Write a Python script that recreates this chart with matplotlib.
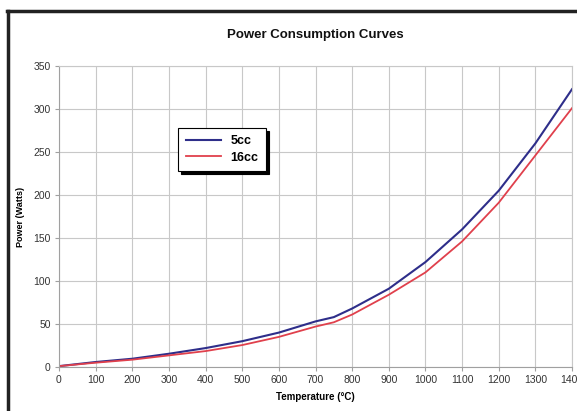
import matplotlib
matplotlib.use("Agg")
import matplotlib.pyplot as plt
from matplotlib.lines import Line2D

temps = [0, 100, 200, 300, 400, 500, 600, 700, 750, 800, 900, 1000, 1100, 1200, 1300, 1400]
power_5cc = [1, 5.8, 9.6, 15.4, 22, 30, 40, 53, 58, 68, 91, 122, 160, 205, 260, 323]
power_16cc = [1, 5, 8.5, 13.5, 18.5, 25.5, 35, 47, 52, 61, 84, 110, 146, 191, 246, 301]
xticks = list(range(0, 1401, 100))
yticks = list(range(0, 351, 50))

plt.rcParams['font.family'] = ['Liberation Sans', 'DejaVu Sans']

fig = plt.figure(figsize=(5.77, 4.11), dpi=100)
fig.patch.set_facecolor('white')
ax = fig.add_axes([59/577, 44/411, 513/577, 301/411])

ax.plot(temps, power_5cc, color='#2e2e8a', lw=1.5, label='5cc')
ax.plot(temps, power_16cc, color='#e0404c', lw=1.3, label='16cc')

ax.set_xlim(0, 1400)
ax.set_ylim(0, 350)
ax.set_xticks(xticks)
ax.set_yticks(yticks)
ax.set_xticklabels([str(t) for t in xticks], fontsize=7.5, color='#333333')
ax.set_yticklabels([str(v) for v in yticks], fontsize=7.5, color='#333333')
ax.grid(True, color='#c8c8c8', lw=0.8)
ax.set_axisbelow(True)
for s in ax.spines.values():
    s.set_color('#c8c8c8')
    s.set_linewidth(0.8)
ax.spines['left'].set_color('#a0a0a0')
ax.spines['bottom'].set_color('#a0a0a0')
ax.tick_params(axis='both', length=3, color='#a0a0a0', pad=3)

ax.set_title('Power Consumption Curves', fontsize=9.5, fontweight='bold', pad=20, color='#111111')
ax.set_xlabel('Temperature (°C)', fontsize=7, fontweight='bold', labelpad=5)
ax.set_ylabel('Power (Watts)', fontsize=6.5, fontweight='bold', labelpad=6)

leg = ax.legend(loc='upper left', bbox_to_anchor=(0.22, 0.815), fancybox=False,
                shadow={'color': 'black', 'alpha': 1}, edgecolor='black',
                prop={'weight': 'bold', 'size': 9}, handlelength=2.8,
                borderpad=0.6, labelspacing=0.35, framealpha=1)
leg.get_frame().set_linewidth(0.8)

# outer frame (left and top visible)
fig.add_artist(Line2D([8/577, 8/577], [0, 1 - 11/411], transform=fig.transFigure,
                      color='#222222', lw=2.5))
fig.add_artist(Line2D([7/577, 1], [1 - 11/411, 1 - 11/411], transform=fig.transFigure,
                      color='#222222', lw=2.5))

fig.savefig('out.png', dpi=100)
